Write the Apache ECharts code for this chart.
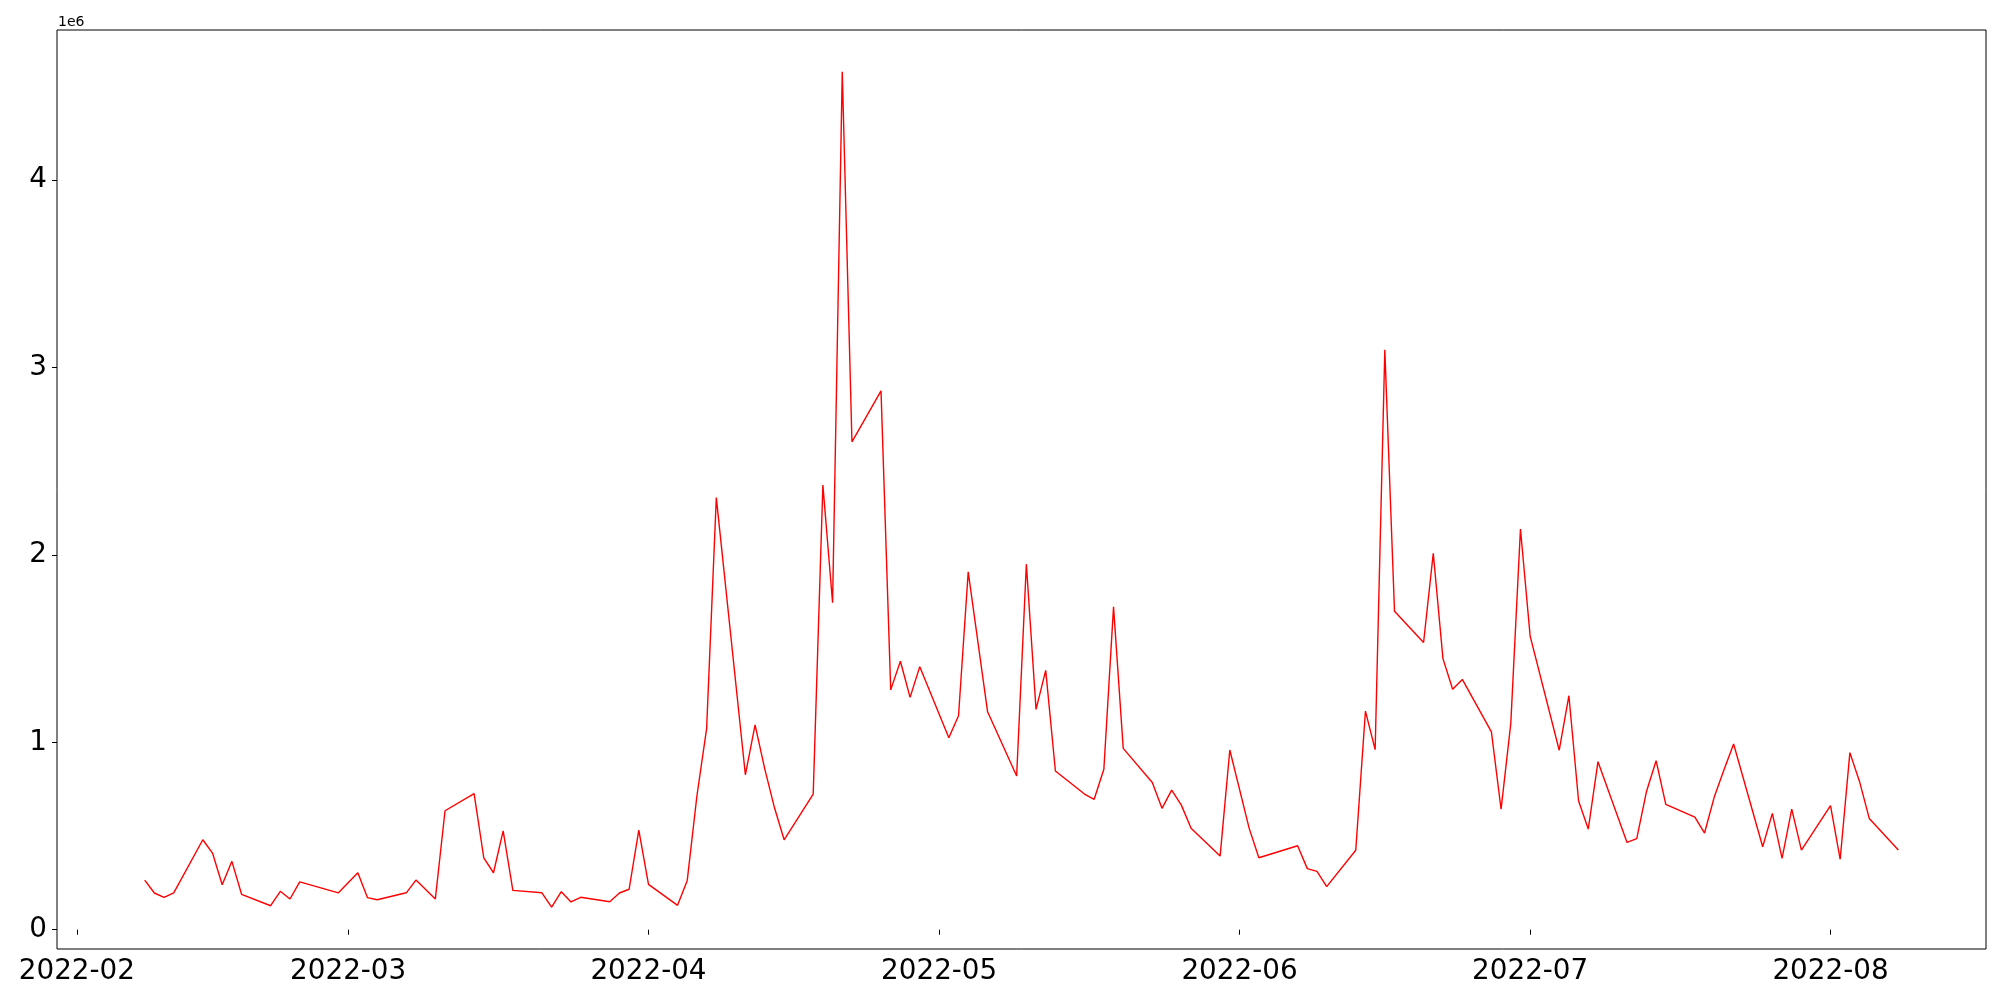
<!DOCTYPE html>
<html>
<head>
<meta charset="utf-8">
<script src="https://cdn.jsdelivr.net/npm/echarts@6/dist/echarts.min.js"></script>
<style>
  html, body { margin: 0; padding: 0; background: #fff; }
  #chart { width: 2000px; height: 1000px; }
</style>
</head>
<body>
<div id="chart"></div>
<script>
// daily values
const dates = [
  '2022-02-08','2022-02-09','2022-02-10','2022-02-11','2022-02-14','2022-02-15','2022-02-16','2022-02-17','2022-02-18',
  '2022-02-21','2022-02-22','2022-02-23','2022-02-24','2022-02-28',
  '2022-03-02','2022-03-03','2022-03-04','2022-03-07','2022-03-08','2022-03-10','2022-03-11','2022-03-14','2022-03-15',
  '2022-03-16','2022-03-17','2022-03-18','2022-03-21','2022-03-22','2022-03-23','2022-03-24','2022-03-25','2022-03-28',
  '2022-03-29','2022-03-30','2022-03-31',
  '2022-04-01','2022-04-04','2022-04-05','2022-04-06','2022-04-07','2022-04-08','2022-04-11','2022-04-12','2022-04-13',
  '2022-04-14','2022-04-15','2022-04-18','2022-04-19','2022-04-20','2022-04-21','2022-04-22','2022-04-25','2022-04-26',
  '2022-04-27','2022-04-28','2022-04-29',
  '2022-05-02','2022-05-03','2022-05-04','2022-05-06','2022-05-09','2022-05-10','2022-05-11','2022-05-12','2022-05-13',
  '2022-05-16','2022-05-17','2022-05-18','2022-05-19','2022-05-20','2022-05-23','2022-05-24','2022-05-25','2022-05-26',
  '2022-05-27','2022-05-30','2022-05-31',
  '2022-06-02','2022-06-03','2022-06-07','2022-06-08','2022-06-09','2022-06-10','2022-06-13','2022-06-14','2022-06-15',
  '2022-06-16','2022-06-17','2022-06-20','2022-06-21','2022-06-22','2022-06-23','2022-06-24','2022-06-27','2022-06-28',
  '2022-06-29','2022-06-30',
  '2022-07-01','2022-07-04','2022-07-05','2022-07-06','2022-07-07','2022-07-08','2022-07-11','2022-07-12','2022-07-13',
  '2022-07-14','2022-07-15','2022-07-18','2022-07-19','2022-07-20','2022-07-21','2022-07-22','2022-07-25','2022-07-26',
  '2022-07-27','2022-07-28','2022-07-29',
  '2022-08-01','2022-08-02','2022-08-03','2022-08-04','2022-08-05','2022-08-08'
];
const values = [
  265000, 196000, 173000, 197000, 480000, 409000, 240000, 365000, 189000,
  128000, 205000, 164000, 255000, 197000,
  304000, 171000, 160000, 197000, 265000, 164000, 635000, 726000, 384000,
  304000, 528000, 210000, 197000, 120000, 203000, 148000, 173000, 149000,
  196000, 216000, 532000,
  242000, 130000, 263000, 715000, 1073000, 2306000, 827000, 1093000, 858000,
  652000, 480000, 723000, 2373000, 1745000, 4579000, 2604000, 2876000, 1280000,
  1433000, 1240000, 1404000,
  1025000, 1142000, 1910000, 1163000, 820000, 1951000, 1176000, 1384000, 847000,
  724000, 696000, 856000, 1723000, 968000, 786000, 648000, 745000, 665000,
  541000, 393000, 959000,
  541000, 384000, 448000, 326000, 311000, 230000, 424000, 1167000, 961000,
  3095000, 1700000, 1533000, 2009000, 1447000, 1283000, 1336000, 1056000, 643000,
  1100000, 2139000,
  1567000, 958000, 1249000, 687000, 537000, 897000, 466000, 486000, 736000,
  902000, 669000, 601000, 516000, 708000, 852000, 991000, 443000, 621000,
  381000, 644000, 425000,
  662000, 376000, 945000, 790000, 594000, 425000
];
// tick labels
const monthTicks = ['2022-02', '2022-03', '2022-04', '2022-05', '2022-06', '2022-07', '2022-08'];
const yTicks = [0, 1000000, 2000000, 3000000, 4000000];

function ts(s) {
  const p = s.split('-').map(Number);
  return Date.UTC(p[0], p[1] - 1, p[2] || 1);
}

const points = dates.map((d, i) => [ts(d), values[i]]);

// matplotlib style 5% margins
const x0 = ts(dates[0]), x1 = ts(dates[dates.length - 1]);
const xPad = (x1 - x0) * 0.05;
const vMin = Math.min(...values), vMax = Math.max(...values);
const yPad = (vMax - vMin) * 0.05;
const monthVals = monthTicks.map(ts);

const font = 'DejaVu Sans';

const chart = echarts.init(document.getElementById('chart'));
chart.setOption({
  animation: false,
  grid: {
    left: 57, right: 14, top: 30, bottom: 51,
    show: true, borderColor: '#000', borderWidth: 1
  },
  graphic: [{
    type: 'text', left: 58, top: 15,
    style: { text: '1e6', font: '14px "DejaVu Sans"', fill: '#000' }
  }],
  xAxis: {
    type: 'value',
    min: x0 - xPad,
    max: x1 + xPad,
    axisLine: { show: false },
    splitLine: { show: false },
    axisTick: { show: true, length: 5, customValues: monthVals, lineStyle: { color: '#000', width: 1 } },
    axisLabel: {
      customValues: monthVals,
      margin: 9,
      fontSize: 27.8,
      fontFamily: font,
      color: '#000',
      formatter: function (v) {
        const d = new Date(v);
        const m = d.getUTCMonth() + 1;
        return d.getUTCFullYear() + '-' + (m < 10 ? '0' + m : m);
      }
    }
  },
  yAxis: {
    type: 'value',
    min: vMin - yPad,
    max: vMax + yPad,
    axisLine: { show: false },
    splitLine: { show: false },
    axisTick: { show: true, length: 5, customValues: yTicks, lineStyle: { color: '#000', width: 1 } },
    axisLabel: {
      customValues: yTicks,
      margin: 10,
      fontSize: 27.8,
      fontFamily: font,
      color: '#000',
      formatter: v => String(Math.round(v / 1e6))
    }
  },
  series: [{
    type: 'line',
    data: points,
    showSymbol: false,
    lineStyle: { color: '#ff0000', width: 1.4 },
    itemStyle: { color: '#ff0000' }
  }]
});
</script>
</body>
</html>
